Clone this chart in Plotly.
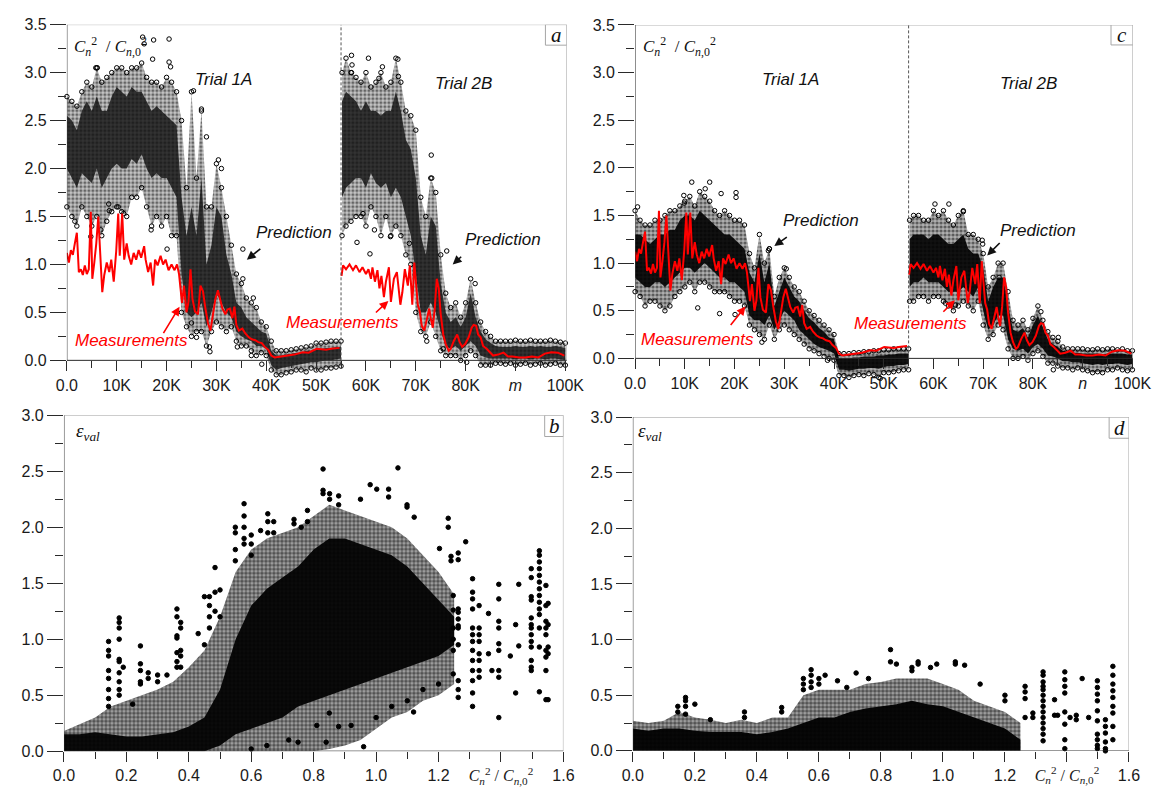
import plotly.graph_objects as go

# ---------------- data ----------------
# Measurements (red line), shared by panels a and c; x in thousands of samples
meas1_k = [0.0,0.4,0.8,1.2,1.6,2.0,2.4,2.8,3.2,3.6, 4.0,4.4,4.8,5.1,5.5,5.9,6.3,6.7,7.1,7.5,
           8.0,8.5,8.9,9.4,9.9,10.3,10.6,11.1,11.5,12.0, 12.4,12.9,13.4,13.9,14.4,14.9,15.5,15.8,16.3,16.8,
           17.3,17.7,18.2,18.8,19.3,19.8,20.4,21.0,21.6,22.1, 22.5,23.1,23.5,24.0,24.4,24.8,25.2,25.7,26.3,26.8,
           27.3,27.8,28.3,28.8,29.3,29.8,30.3,30.7,31.2,31.8, 32.2,32.7,33.2,33.6,34.0,34.5,35.2,35.8,36.5,37.1,
           37.8,38.4,39.1,39.7,40.4,41.0,41.7,43.0,44.3,45.6, 47.3,48.5,50.1,52.0,53.0,54.7]
meas1_v = [1.12,1.02,1.15,1.10,1.22,1.33,0.92,0.95,0.89,0.99, 0.90,0.95,1.55,0.85,1.02,1.22,1.50,1.05,0.71,0.89,
           1.02,0.92,1.05,0.82,1.14,1.53,1.09,1.53,1.05,1.22, 1.09,1.00,1.12,1.05,1.15,1.07,1.19,1.05,0.92,1.02,
           0.78,1.05,0.99,1.09,1.00,1.05,0.94,1.00,0.94,1.00, 0.90,0.60,0.78,0.50,0.61,0.95,0.64,0.51,0.48,0.78,
           0.72,0.54,0.39,0.31,0.48,0.64,0.73,0.64,0.54,0.48, 0.53,0.54,0.44,0.56,0.37,0.31,0.33,0.28,0.24,0.22,
           0.21,0.19,0.18,0.14,0.11,0.05,0.03,0.04,0.05,0.06, 0.085,0.08,0.12,0.11,0.12,0.13]
meas2_k = [55.1,55.4,56.0,56.7,57.4,58.0,58.7,59.3,60.0,60.5, 61.0,61.3,61.8,62.3,62.7,63.1,63.6,64.0,64.6,65.0,
           65.6,66.2,66.9,67.3,67.8,68.4,68.8,69.3,69.7,70.1, 70.4,70.8,71.2,71.7,72.2,72.7,73.0,73.4,73.8,74.2,
           74.6,75.0,75.5,76.0,76.6,77.0,77.6,78.3,78.8,79.3, 79.9,80.6,81.2,81.6,82.1,82.5,83.0,83.5,84.2,84.8,
           85.5,86.5,87.6,88.5,89.4,90.7,92.0,93.3,94.6,95.9, 97.2,98.5,99.8]
meas2_v = [0.88,0.99,0.95,1.00,0.94,0.99,0.92,0.97,0.90,0.95, 0.85,0.97,0.82,0.94,0.75,0.88,0.66,0.82,0.97,0.61,
           0.85,0.92,0.58,0.71,0.95,0.78,0.99,0.58,1.02,0.78, 0.58,0.51,0.36,0.31,0.41,0.54,0.44,0.34,0.54,0.85,
           0.75,0.48,0.27,0.17,0.10,0.12,0.20,0.27,0.19,0.14, 0.17,0.24,0.34,0.37,0.36,0.27,0.24,0.15,0.12,0.085,
           0.05,0.06,0.08,0.04,0.04,0.03,0.03,0.04,0.03,0.07, 0.085,0.08,0.05]

# Prediction clouds: sample positions (K) and envelopes (outer low, core low, core high, outer high)
trial1_k = [0,1,2,3,4,5,6,7,8,9, 10,11,12,13,14,15,16,17,18,19, 20,21,22,23,24,25,26,27,28,29,
            30,31,32,33,34,35,36,37,38,39, 40,41,42,43,44,45,46,47,48,49, 50,51,52,53,54,55]
trial2_k = [55.2,56,57,58,59,60,61,62,63,64, 65,66,67,68,69,70,71,72,73,74, 75,76,77,78,79,80,81,82,83,84,
            85,86,87,88,89,90,91,92,93,94, 95,96,97,98,99,100]

pa1_olo = [1.6,1.5,1.4,1.6,1.5,1.4,1.5,1.3,1.45,1.55, 1.6,1.55,1.5,1.7,1.7,1.8,1.6,1.4,1.5,1.4,
           1.5,1.3,1.3,0.5,0.35,0.25,0.3,0.3,0.15,0.3, 0.4,0.35,0.3,0.35,0.2,0.15,0.15,0.1,0.05,0.08,
           0.05,-0.1,-0.15,-0.15,-0.13,-0.12,-0.1,-0.1,-0.12,-0.08, -0.1,-0.1,-0.08,-0.08,-0.07,-0.06]
pa1_clo = [2.0,1.9,1.8,1.95,1.9,1.85,2.0,1.8,1.9,2.0, 2.05,2.0,2.0,2.1,2.05,2.15,2.0,1.9,1.95,1.9,
           1.9,1.8,1.7,0.9,0.5,0.45,0.5,0.6,0.35,0.5, 0.7,0.6,0.5,0.45,0.3,0.25,0.22,0.2,0.15,0.15,
           0.12,-0.05,-0.1,-0.08,-0.07,-0.06,-0.05,-0.04,-0.03,-0.02, -0.02,-0.01,0.0,0.0,0.01,0.02]
pa1_chi = [2.55,2.5,2.4,2.6,2.7,2.6,2.75,2.6,2.6,2.75, 2.85,2.8,2.75,2.85,2.8,2.8,2.7,2.6,2.65,2.6,
           2.55,2.5,2.45,1.7,1.3,1.6,1.3,1.9,1.0,1.2, 1.6,1.5,1.1,0.9,0.6,0.55,0.45,0.4,0.35,0.3,
           0.28,0.1,0.05,0.05,0.06,0.07,0.08,0.08,0.1,0.1, 0.12,0.12,0.13,0.13,0.14,0.14]
pa1_ohi = [2.75,2.7,2.65,2.8,2.9,2.85,3.05,2.9,2.95,3.0, 3.05,3.05,3.0,3.05,3.05,3.1,2.95,2.9,2.9,2.85,
           2.95,2.9,2.8,2.5,1.8,2.8,1.9,2.6,1.6,1.6, 2.05,1.8,1.5,1.2,0.9,0.8,0.65,0.6,0.55,0.4,
           0.35,0.2,0.1,0.1,0.1,0.11,0.12,0.13,0.14,0.15, 0.18,0.18,0.19,0.2,0.2,0.2]
pa2_olo = [1.3,1.4,1.45,1.5,1.5,1.4,1.6,1.5,1.3,1.5, 1.3,1.4,1.3,1.1,1.0,0.5,0.3,0.25,0.4,0.25,
           0.1,0.05,0.05,0.05,0.0,0.05,0.1,0.05,-0.05,-0.05, -0.05,-0.03,-0.03,-0.04,-0.03,-0.05,-0.04,-0.03,-0.05,-0.04,
           -0.03,-0.05,-0.04,-0.03,-0.05,-0.05]
pa2_clo = [1.7,1.8,1.85,1.9,1.9,1.8,1.95,1.85,1.8,1.85, 1.7,1.8,1.7,1.5,1.3,0.9,0.5,0.5,0.6,0.5,
           0.3,0.15,0.12,0.15,0.1,0.15,0.2,0.15,0.05,0.03, 0.02,0.02,0.02,0.02,0.02,0.01,0.02,0.02,0.01,0.02,
           0.02,0.01,0.02,0.02,0.01,0.0]
pa2_chi = [2.7,2.8,2.75,2.7,2.6,2.7,2.6,2.6,2.55,2.6, 2.6,2.8,2.6,2.3,2.2,1.9,1.3,1.1,1.5,1.4,
           0.8,0.5,0.4,0.45,0.35,0.45,0.7,0.45,0.3,0.22, 0.18,0.15,0.14,0.14,0.14,0.15,0.14,0.14,0.15,0.14,
           0.15,0.14,0.14,0.15,0.14,0.13]
pa2_ohi = [3.0,3.15,3.0,2.95,2.9,3.0,2.85,2.9,3.0,2.85, 2.9,3.15,2.9,2.6,2.55,2.4,1.7,1.5,1.9,1.75,
           1.1,0.7,0.55,0.6,0.45,0.6,0.85,0.6,0.4,0.3, 0.25,0.2,0.2,0.2,0.2,0.21,0.2,0.2,0.21,0.2,
           0.2,0.2,0.21,0.2,0.19,0.18]
pa_out_k = [15.2,15.5,17.4,20.5,20.5,20.8,17.2,6.1,5.8,25.4, 27.0,28.0,30.4,31.0,35.3,35.3,37.4,39.1,37.0,28.6,
            28.7,26.0,25.0,34.2,8.4,8.5,10.3,11.4,16.9,20.1, 6.8,1.6,4.8,
            57.1,57.2,57.1,60.5,63.3,66.4,66.5,62.6,59.4,60.8, 58.2,61.7,64.9,68.7,73.1,73.2,76.2,72.2,75.5,81.9, 80.2]
pa_out_v = [3.37,3.30,3.34,3.35,3.11,3.06,3.14,3.05,3.05,2.81, 2.62,2.33,2.09,2.0,1.16,0.85,0.65,-0.04,0.05,0.14,
            0.09,0.24,0.39,0.14,1.63,1.56,1.6,1.53,1.36,1.16, 1.36,1.45,1.29,
            3.18,3.08,3.0,3.15,3.06,3.14,2.96,2.94,1.53,1.11, 1.23,1.36,1.29,1.22,2.14,1.90,1.14,0.2,0.12,0.80, -0.02]

pc1_olo = [0.7,0.65,0.55,0.6,0.6,0.55,0.5,0.55,0.65,0.7, 0.75,0.8,0.7,0.8,0.8,0.75,0.7,0.7,0.7,0.65,
           0.6,0.6,0.55,0.35,0.3,0.25,0.2,0.35,0.2,0.3, 0.35,0.3,0.25,0.2,0.15,0.1,0.08,0.05,0.02,0.0,
           -0.02,-0.18,-0.18,-0.2,-0.18,-0.17,-0.18,-0.16,-0.17,-0.2, -0.15,-0.15,-0.14,-0.13,-0.12,-0.12]
pc1_clo = [0.85,0.8,0.75,0.75,0.8,0.8,0.75,0.8,0.85,0.9, 0.95,0.95,0.9,0.95,1.0,0.95,0.9,0.85,0.85,0.8,
           0.8,0.75,0.7,0.45,0.4,0.4,0.35,0.45,0.3,0.4, 0.5,0.45,0.4,0.3,0.25,0.2,0.15,0.12,0.1,0.08,
           0.05,-0.12,-0.12,-0.13,-0.12,-0.11,-0.11,-0.1,-0.1,-0.11, -0.09,-0.08,-0.08,-0.07,-0.07,-0.06]
pc1_chi = [1.3,1.3,1.25,1.2,1.25,1.3,1.3,1.35,1.35,1.45, 1.5,1.5,1.45,1.55,1.5,1.45,1.4,1.35,1.3,1.3,
           1.25,1.2,1.15,0.9,0.8,1.1,0.8,1.0,0.55,0.7, 0.85,0.75,0.65,0.6,0.5,0.42,0.38,0.32,0.28,0.22,
           0.2,0.0,0.0,0.0,0.01,0.01,0.02,0.02,0.02,0.03, 0.03,0.04,0.04,0.05,0.05,0.05]
pc1_ohi = [1.55,1.45,1.4,1.4,1.45,1.45,1.5,1.55,1.55,1.6, 1.65,1.7,1.6,1.75,1.7,1.65,1.55,1.5,1.55,1.5,
           1.45,1.45,1.4,1.1,0.95,1.3,1.0,1.15,0.65,0.85, 0.95,0.85,0.75,0.7,0.6,0.5,0.45,0.4,0.35,0.3,
           0.25,0.05,0.05,0.05,0.06,0.06,0.07,0.07,0.08,0.08, 0.09,0.09,0.1,0.1,0.1,0.1]
pc2_olo = [0.6,0.6,0.65,0.65,0.6,0.65,0.65,0.6,0.55,0.5, 0.55,0.6,0.55,0.5,0.6,0.35,0.2,0.25,0.35,0.3,
           0.1,0.0,0.0,0.02,-0.02,0.05,0.08,0.02,-0.05,-0.05, -0.08,-0.1,-0.1,-0.12,-0.1,-0.12,-0.13,-0.15,-0.14,-0.15,
           -0.12,-0.12,-0.1,-0.12,-0.13,-0.12]
pc2_clo = [0.75,0.8,0.8,0.85,0.8,0.8,0.8,0.75,0.7,0.7, 0.7,0.75,0.7,0.65,0.75,0.5,0.3,0.35,0.45,0.45,
           0.2,0.1,0.08,0.1,0.05,0.12,0.15,0.1,0.03,0.02, 0.0,-0.03,-0.03,-0.04,-0.04,-0.05,-0.06,-0.07,-0.06,-0.07,
           -0.06,-0.06,-0.05,-0.06,-0.07,-0.06]
pc2_chi = [1.25,1.3,1.3,1.3,1.25,1.3,1.3,1.25,1.2,1.2, 1.25,1.3,1.15,1.1,1.1,0.95,0.6,0.75,0.85,0.85,
           0.55,0.3,0.28,0.32,0.22,0.35,0.45,0.32,0.2,0.15, 0.12,0.08,0.07,0.06,0.06,0.05,0.05,0.05,0.05,0.04,
           0.05,0.05,0.05,0.05,0.04,0.04]
pc2_ohi = [1.45,1.5,1.5,1.45,1.45,1.55,1.5,1.55,1.45,1.4, 1.5,1.55,1.3,1.3,1.25,1.1,0.75,0.85,1.0,1.0,
           0.7,0.4,0.35,0.4,0.3,0.42,0.55,0.4,0.28,0.22, 0.18,0.12,0.1,0.1,0.1,0.1,0.09,0.09,0.1,0.09,
           0.1,0.1,0.09,0.1,0.08,0.08]
pc_out_k = [11.4,15.0,14.1,17.3,20.3,20.3,9.8,9.9,17.0,12.6, 20.1,26.8,27.0,30.4,25.5,38.7,0.5,60.3,63.1,66.0,
            69.8,69.9,62.4,64.4,73.2,81.6,85.1,84.1,49.3]
pc_out_v = [1.85,1.85,1.78,1.73,1.74,1.69,1.71,1.63,0.47,0.53, 0.46,1.13,1.15,0.94,0.17,-0.02,1.59,1.62,1.62,1.54,
            1.24,1.2,0.58,0.56,0.85,0.49,0.22,-0.12,-0.21]

# Validation error scatter (panels b and d): x = Cn2/Cn0^2
err_x = [0.00,0.05,0.10,0.15,0.20,0.25,0.30,0.35,0.40,0.45,0.50,0.55,0.60,
         0.65,0.70,0.75,0.80,0.85,0.90,0.95,1.00,1.05,1.10,1.15,1.20,1.25]
pb_olo = [0,0,0,0,0,0,0,0,0,0,0,0,0, 0,0,0,0,0.02,0.05,0.1,0.2,0.3,0.35,0.45,0.5,0.6]
pb_clo = [0,0,0,0,0,0,0,0,0,0,0.05,0.15,0.2, 0.25,0.3,0.4,0.45,0.5,0.55,0.6,0.65,0.7,0.75,0.8,0.85,0.95]
pb_chi = [0.15,0.15,0.17,0.15,0.13,0.13,0.15,0.17,0.22,0.3,0.55,1.0,1.3, 1.45,1.55,1.65,1.8,1.9,1.9,1.85,1.8,1.75,1.65,1.5,1.35,1.2]
pb_ohi = [0.18,0.24,0.3,0.4,0.45,0.5,0.55,0.62,0.75,0.9,1.2,1.6,1.8, 1.9,1.95,2.0,2.1,2.2,2.15,2.1,2.05,2.0,1.9,1.75,1.6,1.4]
pd_chi = [0.2,0.18,0.2,0.2,0.18,0.17,0.17,0.17,0.15,0.17,0.2,0.25,0.3, 0.3,0.35,0.38,0.4,0.42,0.45,0.42,0.4,0.35,0.3,0.25,0.2,0.1]
pd_ohi = [0.27,0.25,0.27,0.35,0.3,0.28,0.25,0.28,0.25,0.3,0.3,0.5,0.55, 0.55,0.55,0.6,0.62,0.65,0.65,0.65,0.6,0.55,0.45,0.4,0.35,0.25]

b_col_x = [0.143,0.177,0.19,0.22,0.245,0.27,0.30,0.33,0.362,0.374,0.43,0.45,0.466,0.484,0.50,
           0.549,0.577,0.60,0.63,0.653,0.672,0.737,0.76,0.78,0.83,0.851,0.88,0.95,0.981,1.002,
           1.04,1.07,1.099,1.122,1.203,1.231,1.24,1.247,1.263,1.287,1.309,1.33,1.36,1.371,1.393,
           1.43,1.447,1.457,1.497,1.523,1.544,1.551,
           0.60,0.65,0.72,0.75,0.81,0.84,0.85,0.88,0.92,0.96,1.0,1.05,1.1,1.12,1.15,1.2]
b_col_y = [[0.98,0.9,0.85,0.72,0.65,0.55,0.47,0.4],[1.19,1.15,1.1,1.0,0.82,0.8,0.7,0.62,0.55,0.5],[0.75],[0.42],
           [0.94,0.78,0.72,0.62,0.6],[0.7,0.65],[0.68,0.62],[0.68],[1.27,1.2,1.03,1.01,0.88,0.8,0.75],
           [1.15,1.1,0.9,0.85,0.75],[1.05],[1.38,0.95],[1.38,1.3,1.2,1.1],[1.64,1.42,1.25],[1.44,1.2],
           [2.0,1.95,1.8,1.7],[2.21,2.1,2.0,1.9,1.85],[1.93,1.85,1.75],[1.97],[2.12,2.05,1.95],[2.05,1.95],
           [2.07,2.03],[2.0],[2.05,2.15],[2.52,2.33,2.3],[2.30,2.25],[2.28,2.2],[2.25],[2.38],[2.34],
           [2.34,2.27],[2.53],[2.18,2.2],[2.09],[1.81],[2.08,2.0],[1.74,1.70],[1.39,1.26,1.1,1.0,0.9,0.69],
           [1.77,1.71,1.27,1.24,1.18,1.12,1.1,0.95,0.63,0.55,0.48],[1.87],
           [1.54,1.42,1.36,1.27,1.10,1.04,0.98,0.90,0.81,0.72,0.63,0.52,0.40],[1.30,1.1,1.04,0.98,0.87,0.81,0.72,0.66],
           [1.23,0.87],[0.72],[1.49,1.36,1.16,1.10,0.96,0.90,0.72,0.66,0.30],[0.85],[1.13,0.52],[1.49,0.94],
           [1.63,1.55,1.38,1.35,1.19,1.13,1.10,1.04,0.98,0.93,0.81,0.75,0.72],
           [1.79,1.75,1.69,1.63,1.57,1.51,1.45,1.39,1.33,1.27,1.22,1.10,0.93,0.53],
           [1.48,1.30,1.16,1.10,1.04,0.90,0.84,0.72,0.46],[1.32,1.13,0.93,0.87,0.46],
           [0.02],[0.05],[0.1],[0.08],[0.23],[0.08],[0.34],[0.22],[0.23],[0.04],[0.3],[0.4],[0.45],[0.35],[0.55],[0.6]]
d_col_x = [0.145,0.17,0.2,0.25,0.36,0.48,0.55,0.575,0.6,0.62,0.66,0.69,0.72,0.76,0.831,0.85,0.9,0.92,
           0.96,0.98,1.04,1.07,1.12,1.2,1.265,1.29,1.323,1.36,1.37,1.393,1.41,1.43,1.449,1.47,1.498,1.524,1.548]
d_col_y = [[0.4,0.35],[0.48,0.45,0.4,0.33],[0.42],[0.28],[0.35,0.3],[0.39,0.35],[0.65,0.6,0.55],
           [0.73,0.68,0.62,0.57],[0.65,0.6],[0.68],[0.63],[0.57],[0.7],[0.65],[0.91,0.8],[0.78],[0.72,0.75],
           [0.8,0.78],[0.75],[0.78],[0.8,0.78],[0.77],[0.6],[0.5,0.45],[0.58,0.53,0.47,0.3],[0.34,0.3],
           [0.71,0.68,0.62,0.58,0.55,0.5,0.45,0.4,0.35,0.3,0.25,0.2,0.15,0.09],[0.46,0.32],[0.32],
           [0.71,0.64,0.58,0.52,0.35,0.24,0.1,0.02],[0.3],[0.32,0.28],[0.65],[0.3],
           [0.63,0.57,0.51,0.45,0.36,0.27,0.15,0.1,0.05,0.02],[0.28,0.22,0.16,0.08,0.02,0.0],
           [0.76,0.68,0.6,0.54,0.48,0.4,0.34,0.22,0.1]]

k_ticks = [0, 10, 20, 30, 40, 50, 60, 70, 80, 90, 100]
ka_labels = ["0.0", "10K", "20K", "30K", "40K", "50K", "60K", "70K", "80K", "<i>m</i>", "100K"]
kc_labels = ["0.0", "10K", "20K", "30K", "40K", "50K", "60K", "70K", "80K", "<i>n</i>", "100K"]
c_ticks = [0.0, 0.2, 0.4, 0.6, 0.8, 1.0, 1.2, 1.4, 1.6]
y_ticks_a = [0.0, 0.5, 1.0, 1.5, 2.0, 2.5, 3.0, 3.5]
y_ticks_b = [0.0, 0.5, 1.0, 1.5, 2.0, 2.5, 3.0]

# ---------------- figure ----------------
W, H = 1166, 800
SANS = "Liberation Sans, Arial, sans-serif"
SERIF = "Liberation Serif, Times New Roman, serif"
AXC = "#2a2a2a"
FRAME = "#a6a6a6"
RED = "#ff0000"

fig = go.Figure()


def band(xr, yr, x, lo, hi, color, pattern=None):
    fig.add_trace(go.Scatter(x=x, y=lo, xaxis=xr, yaxis=yr, mode="lines", line=dict(width=0, color="black"),
                             hoverinfo="skip", showlegend=False))
    kw = dict(fill="tonexty", fillcolor=color)
    if pattern is not None:
        kw["fillpattern"] = pattern
    fig.add_trace(go.Scatter(x=x, y=hi, xaxis=xr, yaxis=yr, mode="lines", line=dict(width=0, color="black"),
                             hoverinfo="skip", showlegend=False, **kw))


def dots(xr, yr, x, y, filled=False, size=5):
    fig.add_trace(go.Scatter(x=x, y=y, xaxis=xr, yaxis=yr, mode="markers", cliponaxis=False,
                             marker=dict(symbol="circle" if filled else "circle-open", size=size, color="black",
                                         line=dict(width=1, color="black")),
                             hoverinfo="skip", showlegend=False))


def line(xr, yr, x, y):
    fig.add_trace(go.Scatter(x=x, y=y, xaxis=xr, yaxis=yr, mode="lines", line=dict(color=RED, width=2),
                             hoverinfo="skip", showlegend=False))


def speck(bg, solidity):
    return dict(shape=".", fgcolor="black", bgcolor=bg, size=4, solidity=solidity)


# panels a (x, y) and c (x2, y2)
for xr, yr, env1, env2, outk, outv, core_col, outer_bg in [
        ("x", "y", (pa1_olo, pa1_clo, pa1_chi, pa1_ohi), (pa2_olo, pa2_clo, pa2_chi, pa2_ohi), pa_out_k, pa_out_v,
         "rgba(15,15,15,0.8)", "rgba(0,0,0,0.22)"),
        ("x2", "y2", (pc1_olo, pc1_clo, pc1_chi, pc1_ohi), (pc2_olo, pc2_clo, pc2_chi, pc2_ohi), pc_out_k, pc_out_v,
         "rgba(0,0,0,0.9)", "rgba(0,0,0,0.3)")]:
    for kk, (olo, clo, chi, ohi) in [(trial1_k, env1), (trial2_k, env2)]:
        band(xr, yr, kk, olo, ohi, outer_bg, speck(outer_bg, 0.5))
        band(xr, yr, kk, clo, chi, core_col)
        dots(xr, yr, kk, olo, size=4.5)
        dots(xr, yr, kk, ohi, size=4.5)
    dots(xr, yr, outk, outv, size=4.5)
    line(xr, yr, meas1_k, meas1_v)
    line(xr, yr, meas2_k, meas2_v)

# panel b (x3, y3)
band("x3", "y3", err_x, pb_olo, pb_ohi, "rgba(0,0,0,0.35)", speck("rgba(0,0,0,0.35)", 0.65))
band("x3", "y3", err_x, pb_clo, pb_chi, "rgba(0,0,0,0.93)")
bx = [x for x, ys in zip(b_col_x, b_col_y) for _ in ys]
by = [y for ys in b_col_y for y in ys]
dots("x3", "y3", bx, by, filled=True, size=4.5)

# panel d (x4, y4)
zeros = [0.0] * len(err_x)
band("x4", "y4", err_x, zeros, pd_ohi, "rgba(0,0,0,0.35)", speck("rgba(0,0,0,0.35)", 0.65))
band("x4", "y4", err_x, zeros, pd_chi, "rgba(0,0,0,0.95)")
dx = [x for x, ys in zip(d_col_x, d_col_y) for _ in ys]
dy = [y for ys in d_col_y for y in ys]
dots("x4", "y4", dx, dy, filled=True, size=4.5)

# ---------------- axes ----------------
tickfont = dict(family=SANS, size=16, color="#1a1a1a")


def xax(dom, rng, vals, text, minor_vals, anchor, position=None):
    d = dict(domain=dom, range=rng, tickmode="array", tickvals=vals, ticktext=text, ticks="outside",
             ticklen=10, tickwidth=1, tickcolor=AXC, showline=False, showgrid=False, zeroline=False,
             tickfont=tickfont, minor=dict(tickvals=minor_vals, ticks="outside", ticklen=7, tickcolor=AXC))
    if position is not None:
        d.update(anchor="free", position=position)
    else:
        d.update(anchor=anchor)
    return d


def yax(dom, rng, vals, minor_vals, anchor):
    return dict(domain=dom, range=rng, tickmode="array", tickvals=vals, ticktext=["%.1f" % v for v in vals],
                ticks="outside", ticklen=16, tickwidth=1, tickcolor=AXC, showline=False, showgrid=False,
                zeroline=False, anchor=anchor, tickfont=tickfont,
                minor=dict(tickvals=minor_vals, ticks="outside", ticklen=8, tickcolor=AXC))


k_minor = [5, 15, 25, 35, 45, 55, 65, 75, 85, 95]
c_minor = [0.1, 0.3, 0.5, 0.7, 0.9, 1.1, 1.3, 1.5]
ya_minor = [0.25, 0.75, 1.25, 1.75, 2.25, 2.75, 3.25]
yb_minor = [0.25, 0.75, 1.25, 1.75, 2.25, 2.75]
clabel = ('<span style="font-family:Liberation Serif"><i>C</i><sub><i>n</i></sub><sup>2</sup> / '
          '<i>C</i><sub><i>n</i>,0</sub><sup>2</sup></span>')
c_labels = ["0.0", "0.2", "0.4", "0.6", "0.8", "1.0", "1.2", clabel, "1.6"]

XA_MAX = (570 - 57.3) / 5.112
XC_MAX = (1150.5 - 640) / 5.1

fig.update_layout(
    width=W, height=H, margin=dict(l=0, r=0, t=0, b=0), paper_bgcolor="white", plot_bgcolor="white",
    showlegend=False,
    xaxis=xax([57.3 / W, 570 / W], [0, XA_MAX], k_ticks, ka_labels, k_minor, None, position=1 - 360 / H),
    yaxis=yax([1 - 379.6 / H, 1 - 17 / H], [-0.2, 3.5], y_ticks_a, ya_minor, "x"),
    xaxis2=xax([640 / W, 1150.5 / W], [0, XC_MAX], k_ticks, kc_labels, k_minor, None, position=1 - 358 / H),
    yaxis2=yax([1 - 379.4 / H, 1 - 17.3 / H], [-0.22, 3.5], y_ticks_a, ya_minor, "x2"),
    xaxis3=xax([54.3 / W, 566.5 / W], [0, 1.6], c_ticks, c_labels, c_minor, "y3"),
    yaxis3=yax([1 - 759.3 / H, 1 - 416.1 / H], [0, 3], y_ticks_b, yb_minor, "x3"),
    xaxis4=xax([637.7 / W, 1146.5 / W], [0, 1.6], c_ticks, c_labels, c_minor, "y4"),
    yaxis4=yax([1 - 759 / H, 1 - 418 / H], [0, 3], y_ticks_b, yb_minor, "x4"),
)

# ---------------- frames, separators, labels ----------------
shapes = []
annotations = []


def frame(xr, yr, xmax, ymax, letter, box_x0, box_y0):
    shapes.append(dict(type="line", xref=xr, yref=yr, x0=0, x1=xmax, y0=ymax, y1=ymax, line=dict(color=FRAME, width=1)))
    shapes.append(dict(type="line", xref=xr, yref=yr, x0=xmax, x1=xmax, y0=0, y1=ymax, line=dict(color=FRAME, width=1)))
    shapes.append(dict(type="line", xref=xr, yref=yr, x0=0, x1=0, y0=0, y1=ymax, line=dict(color=AXC, width=1)))
    shapes.append(dict(type="line", xref=xr, yref=yr, x0=0, x1=xmax, y0=0, y1=0, line=dict(color=AXC, width=1)))
    shapes.append(dict(type="rect", xref=xr, yref=yr, x0=box_x0, x1=xmax, y0=box_y0, y1=ymax,
                       line=dict(color=FRAME, width=1), fillcolor="white"))
    annotations.append(dict(xref=xr, yref=yr, x=(box_x0 + xmax) / 2, y=(box_y0 + ymax) / 2, text="<i>%s</i>" % letter,
                            showarrow=False, font=dict(family=SERIF, size=21, color="#111"),
                            xanchor="center", yanchor="middle"))


frame("x", "y", XA_MAX, 3.5, "a", 96.0, 3.286)
frame("x2", "y2", XC_MAX, 3.5, "c", 95.7, 3.29)
frame("x3", "y3", 1.6, 3.0, "b", 1.54, 2.81)
frame("x4", "y4", 1.6, 3.0, "d", 1.536, 2.81)

for xr, yr in [("x", "y"), ("x2", "y2")]:
    shapes.append(dict(type="line", xref=xr, yref=yr, x0=55, x1=55, y0=0, y1=3.5,
                       line=dict(color="#555", width=1, dash="3px,2px")))

ylab = '<i>C</i><sub><i>n</i></sub><sup>2</sup>  / <i>C</i><sub><i>n</i>,0</sub><sup>2</sup>'
annotations.append(dict(xref="x", yref="y", x=1.0, y=3.27, text=ylab, showarrow=False, xanchor="left",
                        yanchor="middle", font=dict(family=SERIF, size=17, color="#111")))
annotations.append(dict(xref="x2", yref="y2", x=1.1, y=3.27, text=ylab, showarrow=False, xanchor="left",
                        yanchor="middle", font=dict(family=SERIF, size=17, color="#111")))
elab = '<i>ε</i><sub><i>val</i></sub>'
annotations.append(dict(xref="x3", yref="y3", x=0.033, y=2.85, text=elab, showarrow=False, xanchor="left",
                        yanchor="middle", font=dict(family=SERIF, size=19, color="#111")))
annotations.append(dict(xref="x4", yref="y4", x=0.01, y=2.87, text=elab, showarrow=False, xanchor="left",
                        yanchor="middle", font=dict(family=SERIF, size=19, color="#111")))


def txt(xr, yr, x, y, s, color="#111"):
    annotations.append(dict(xref=xr, yref=yr, x=x, y=y, text="<i>%s</i>" % s, showarrow=False,
                            xanchor="center", yanchor="middle", font=dict(family=SANS, size=17, color=color)))


def arrow(xr, yr, x, y, ax, ay, color="#111"):
    annotations.append(dict(xref=xr, yref=yr, x=x, y=y, ax=ax, ay=ay, text="", showarrow=True,
                            arrowhead=2, arrowsize=1.1, arrowwidth=1.6, arrowcolor=color))


# panel a
txt("x", "y", 31.4, 2.93, "Trial 1A")
txt("x", "y", 79.6, 2.89, "Trial 2B")
txt("x", "y", 45.5, 1.33, "Prediction")
arrow("x", "y", 36.1, 1.05, 15, -12)
txt("x", "y", 87.4, 1.26, "Prediction")
arrow("x", "y", 77.4, 1.0, 10, -9)
txt("x", "y", 12.9, 0.21, "Measurements", RED)
arrow("x", "y", 22.6, 0.56, -17, 28, RED)
txt("x", "y", 55.3, 0.39, "Measurements", RED)
arrow("x", "y", 64.5, 0.62, -14, 13, RED)
# panel c
txt("x2", "y2", 31.2, 2.93, "Trial 1A")
txt("x2", "y2", 79.2, 2.89, "Trial 2B")
txt("x2", "y2", 37.3, 1.45, "Prediction")
arrow("x2", "y2", 28.0, 1.18, 14, -10)
txt("x2", "y2", 81.0, 1.34, "Prediction")
arrow("x2", "y2", 70.8, 1.08, 14, -14)
txt("x2", "y2", 12.5, 0.195, "Measurements", RED)
arrow("x2", "y2", 22.2, 0.545, -16, 20, RED)
txt("x2", "y2", 55.3, 0.37, "Measurements", RED)
arrow("x2", "y2", 64.3, 0.61, -13, 13, RED)

fig.update_layout(shapes=shapes, annotations=annotations)
fig.write_html("out.html")
